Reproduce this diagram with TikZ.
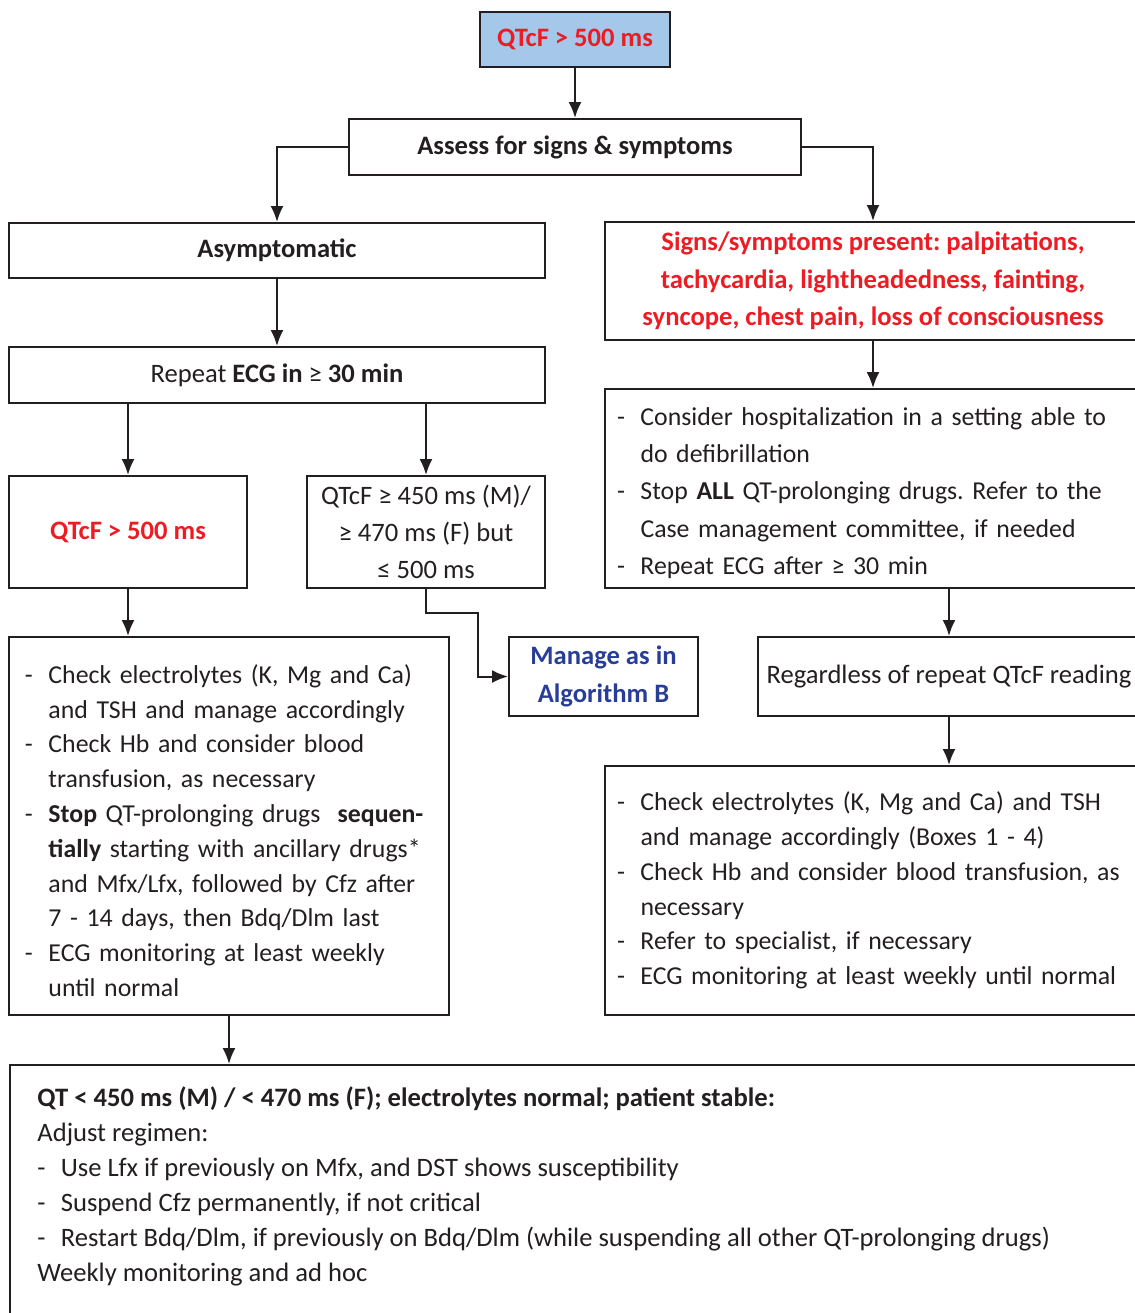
\documentclass[tikz,border=0pt]{standalone}
\usepackage{fontspec}
\setmainfont{Carlito}
\usetikzlibrary{arrows.meta,calc}
\definecolor{qtred}{RGB}{237,28,36}
\definecolor{qtblue}{RGB}{40,62,150}
\definecolor{qtfill}{RGB}{164,199,234}
\definecolor{qtink}{RGB}{35,31,32}
\newcommand{\dashitem}{\makebox[11.75pt][l]{-}}
\newcommand{\dashcont}{\hspace*{11.75pt}}
\frenchspacing

\begin{document}
\begin{tikzpicture}[x=0.5pt,y=-0.5pt,
  box/.style={draw=qtink, line width=1pt, inner sep=0pt, text=qtink, align=center,
    font=\fontsize{13.3}{17.5}\selectfont},
  boldbox/.style={box, font=\fontsize{13.3}{17.5}\selectfont\bfseries},
  widebox/.style={box, font=\fontsize{13.3}{18.6}\selectfont},
  listbox/.style={box, align=left, font=\fontsize{12.9}{17.4}\selectfont},
  arr/.style={draw=qtink, line width=1pt, -{Latex[length=8pt,width=6.5pt]}}]

  % frame of the page, the right and lower boxes run past it
  \useasboundingbox (0,0) rectangle (1135,1313);
  \clip (0,0) rectangle (1135,1313);

  % Top of the chart
  \node[boldbox, fill=qtfill, text=qtred, minimum width=95pt, minimum height=27.5pt]
    (start) at (575,39.5) {QTcF > 500 ms};
  \node[boldbox, minimum width=226pt, minimum height=28pt]
    (assess) at (575,147) {Assess for signs \& symptoms};

  % Left branch
  \node[boldbox, minimum width=268pt, minimum height=27.5pt]
    (asym) at (277,250.5) {Asymptomatic};
  \node[box, minimum width=268pt, minimum height=28pt]
    (repeat) at (277,375) {Repeat \textbf{ECG in} ≥ \textbf{30 min}};
  \node[boldbox, text=qtred, minimum width=119pt, minimum height=56pt]
    (qhigh) at (128,532) {QTcF > 500 ms};
  \node[widebox, minimum width=119pt, minimum height=56pt]
    (qmid) at (426,532) {QTcF ≥ 450 ms (M)/\\ ≥ 470 ms (F) but\\ ≤ 500 ms};
  \node[boldbox, text=qtblue, minimum width=94.5pt, minimum height=39.5pt,
    font=\fontsize{13.3}{18.6}\selectfont\bfseries]
    (manage) at (603.5,676.5) {Manage as in\\ Algorithm B};
  \node[listbox, inner xsep=8pt, text width=204pt, minimum height=189pt,
    text depth=152.1pt]
    (checkL) at (229,826) {%
    \dashitem Check electrolytes (K, Mg and Ca)\\
    \dashcont and TSH and manage accordingly\\
    \dashitem Check Hb and consider blood\\
    \dashcont transfusion, as necessary\\
    \dashitem \textbf{Stop} QT-prolonging drugs\ \ \textbf{sequen-}\\
    \dashcont \textbf{tially} starting with ancillary drugs*\\
    \dashcont and Mfx/Lfx, followed by Cfz after\\
    \dashcont 7 - 14 days, then Bdq/Dlm last\\
    \dashitem ECG monitoring at least weekly\\
    \dashcont until normal};

  % Right branch
  \node[boldbox, text=qtred, minimum width=268pt, minimum height=59pt,
    font=\fontsize{13.3}{18.7}\selectfont\bfseries]
    (signs) at (873,281) {Signs/symptoms present: palpitations,\\
    tachycardia, lightheadedness, fainting,\\
    syncope, chest pain, loss of consciousness};
  \node[listbox, inner xsep=6pt, text width=256pt, minimum height=99.5pt,
    font=\fontsize{12.9}{18.7}\selectfont, text depth=72.4pt]
    (consider) at (873,488.5) {%
    \dashitem Consider hospitalization in a setting able to\\
    \dashcont do defibrillation\\
    \dashitem Stop \textbf{ALL} QT-prolonging drugs. Refer to the\\
    \dashcont Case management committee, if needed\\
    \dashitem Repeat ECG after ≥ 30 min};
  \node[box, minimum width=191pt, minimum height=39.5pt]
    (regard) at (949,676.5) {Regardless of repeat QTcF reading};
  \node[listbox, inner xsep=6pt, text width=256pt, minimum height=124.5pt]
    (checkR) at (873,890.5) {%
    \dashitem Check electrolytes (K, Mg and Ca) and TSH\\
    \dashcont and manage accordingly (Boxes 1 - 4)\\
    \dashitem Check Hb and consider blood transfusion, as\\
    \dashcont necessary\\
    \dashitem Refer to specialist, if necessary\\
    \dashitem ECG monitoring at least weekly until normal};

  % Outcome box
  \node[box, anchor=north west, minimum width=568pt, minimum height=140pt]
    (outcome) at (9,1064) {};
  \node[anchor=north west, inner sep=0pt, align=left, text=qtink,
    font=\fontsize{13.3}{17.5}\selectfont]
    (outtext) at ($(outcome.north west)+(28,22)$) {%
    \textbf{QT < 450 ms (M) / < 470 ms (F); electrolytes normal; patient stable:}\\
    Adjust regimen:\\
    \dashitem Use Lfx if previously on Mfx, and DST shows susceptibility\\
    \dashitem Suspend Cfz permanently, if not critical\\
    \dashitem Restart Bdq/Dlm, if previously on Bdq/Dlm (while suspending all other QT-prolonging drugs)\\
    Weekly monitoring and ad hoc};

  % Connectors
  \draw[arr] (start) -- (assess);
  \draw[arr] (assess.west) -| (asym.north);
  \draw[arr] (assess.east) -| (signs.north);
  \draw[arr] (asym) -- (repeat);
  \draw[arr] (qhigh.north |- repeat.south) -- (qhigh.north);
  \draw[arr] (qmid.north |- repeat.south) -- (qmid.north);
  \draw[arr] (qhigh.south) -- (qhigh.south |- checkL.north);
  \coordinate (bend) at (478,613);
  \draw[arr] (qmid.south) |- (bend) |- (manage.west);
  \draw[arr] (signs) -- (consider);
  \draw[arr] (regard.north |- consider.south) -- (regard.north);
  \draw[arr] (regard.south) -- (regard.south |- checkR.north);
  \draw[arr] (checkL.south) -- (checkL.south |- outcome.north);
\end{tikzpicture}
\end{document}
